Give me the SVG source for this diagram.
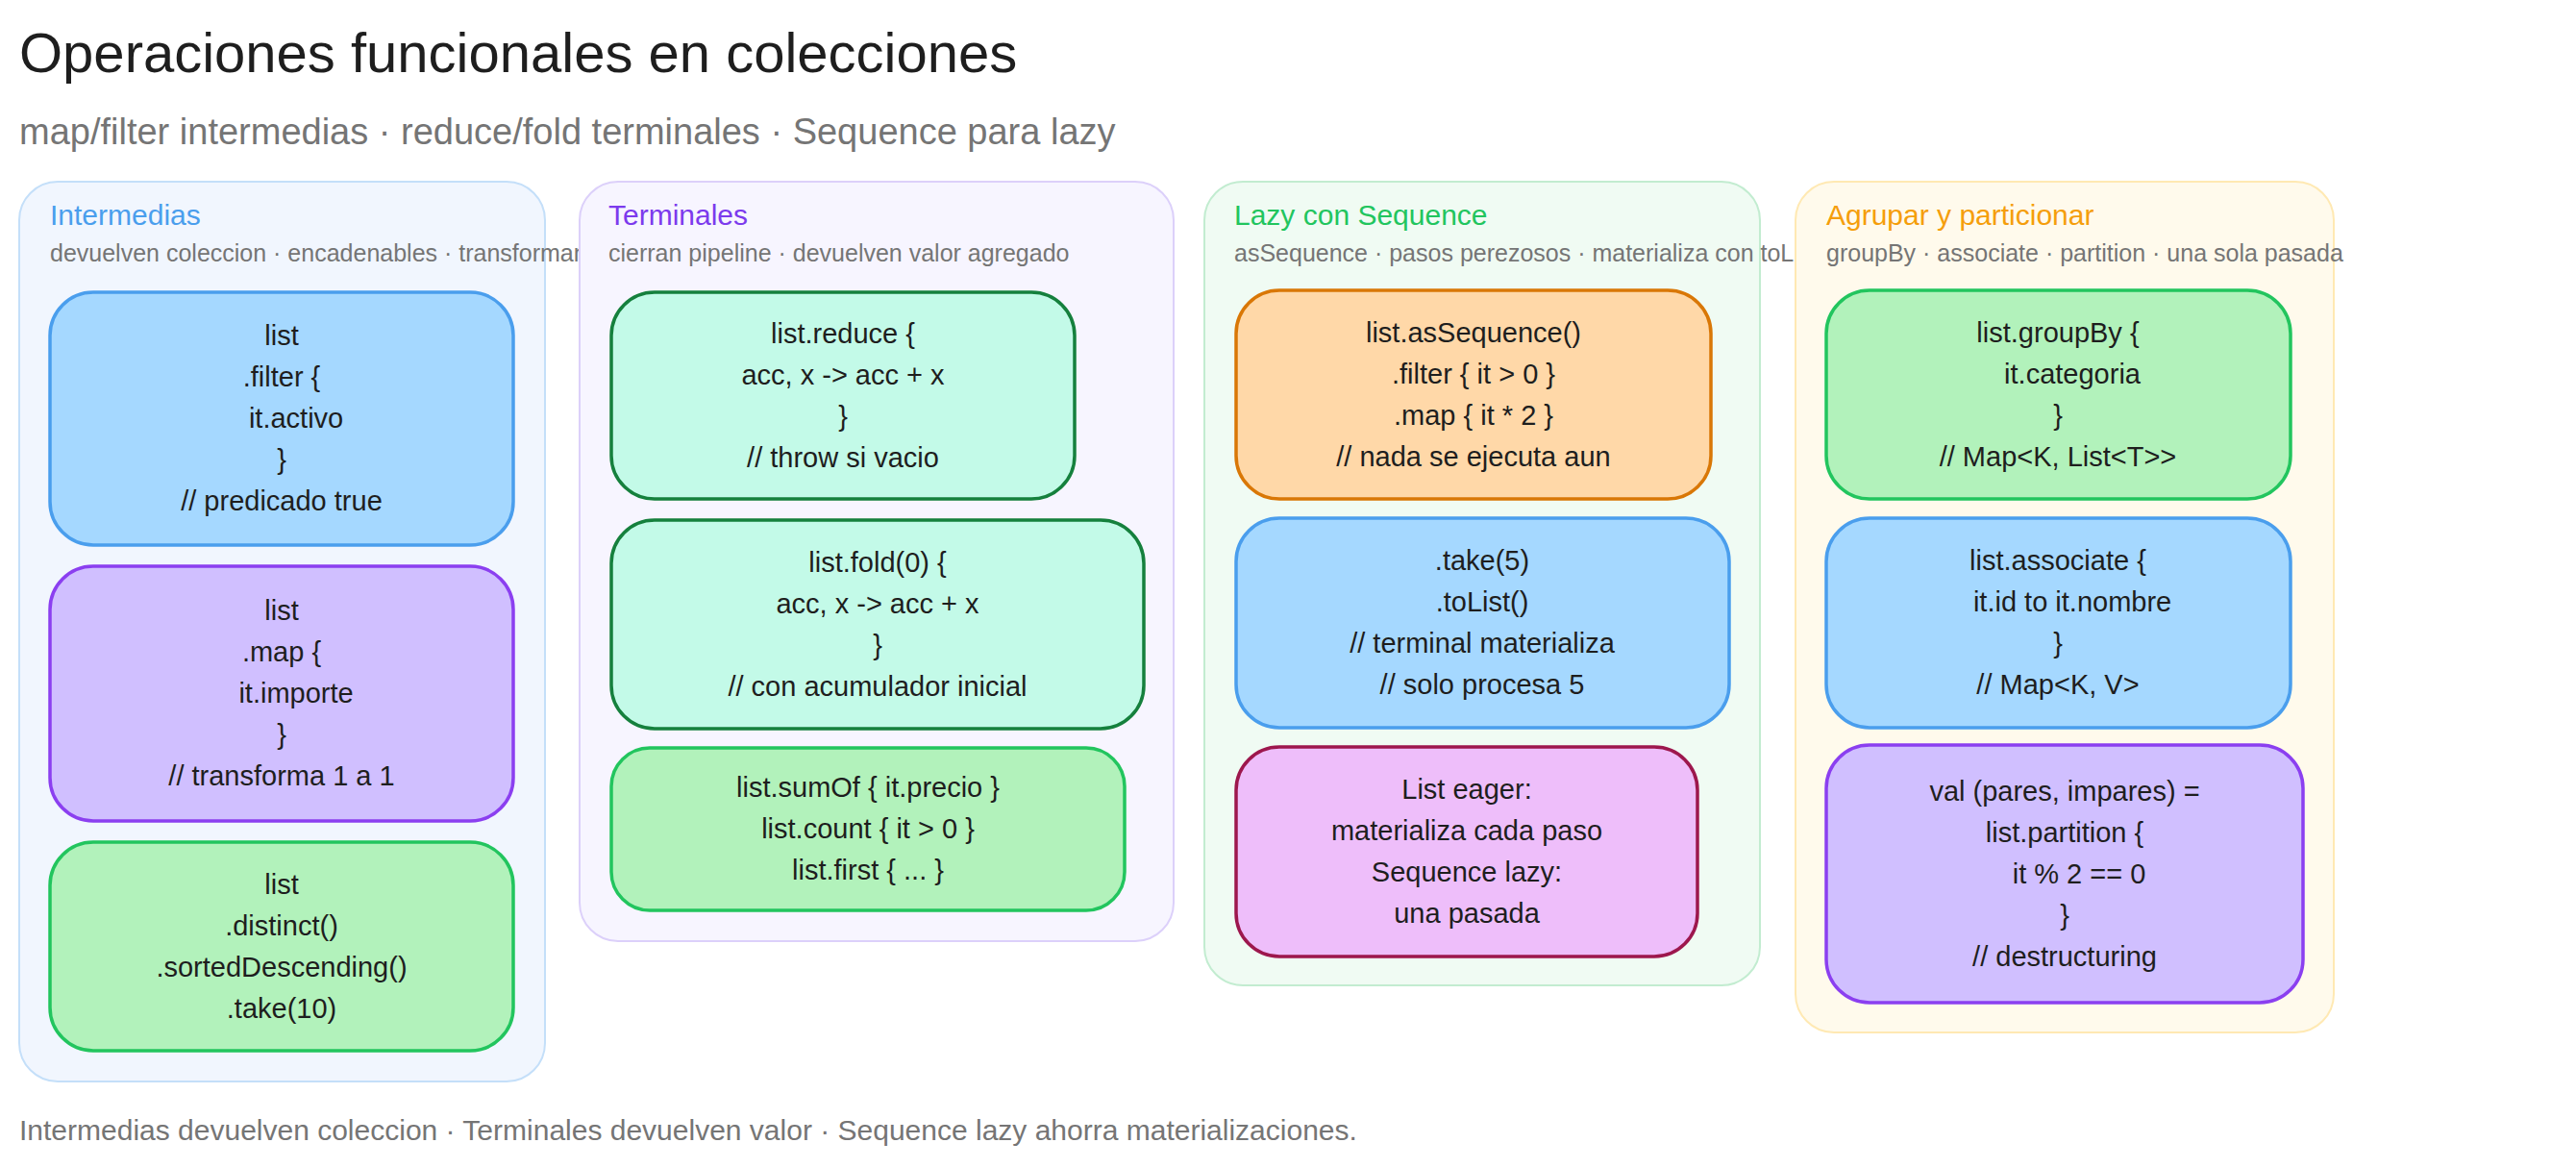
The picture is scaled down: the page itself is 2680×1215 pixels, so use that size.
<svg xmlns="http://www.w3.org/2000/svg" width="2680" height="1215" viewBox="0 0 2680 1215">
<style>
text{font-family:"Liberation Sans",Arial,sans-serif;white-space:pre}
.t{font-size:58px;fill:#1e1e1e}
.st{font-size:38px;fill:#757575}
.pt{font-size:30px}
.ps{font-size:25px;fill:#757575}
.n{font-size:29px;fill:#1e1e1e;text-anchor:middle;dominant-baseline:central}
.nd rect{stroke-width:3.5}
.pn rect{stroke-width:2}
</style>
<rect width="2680" height="1215" fill="#ffffff"/>
<text class="t" x="20" y="75">Operaciones funcionales en colecciones</text>
<text class="st" x="20" y="150">map/filter intermedias · reduce/fold terminales · Sequence para lazy</text>

<g id="panel-intermedias" class="pn"><rect x="20" y="189" width="547" height="936" rx="40" fill="#f1f6fe" stroke="#c4dff9"/><text class="pt" x="52" y="234" fill="#4a9eed">Intermedias</text><text class="ps" x="52" y="272">devuelven coleccion · encadenables · transforman</text></g>
<g id="panel-terminales" class="pn"><rect x="603" y="189" width="618" height="790" rx="40" fill="#f7f5ff" stroke="#dcd0fa"/><text class="pt" x="633" y="234" fill="#7c3aed">Terminales</text><text class="ps" x="633" y="272">cierran pipeline · devuelven valor agregado</text></g>
<g id="panel-lazy" class="pn"><rect x="1253" y="189" width="578" height="836" rx="40" fill="#f0fbf3" stroke="#c2ecd0"/><text class="pt" x="1284" y="234" fill="#22c55e">Lazy con Sequence</text><text class="ps" x="1284" y="272">asSequence · pasos perezosos · materializa con toList()</text></g>
<g id="panel-agrupar" class="pn"><rect x="1868" y="189" width="560" height="885" rx="40" fill="#fffaec" stroke="#ffe9b3"/><text class="pt" x="1900" y="234" fill="#f59e0b">Agrupar y particionar</text><text class="ps" x="1900" y="272">groupBy · associate · partition · una sola pasada</text></g>

<g id="n-filter" class="nd"><rect x="52" y="304" width="482" height="263" rx="45" fill="#a5d8ff" stroke="#4a9eed"/>
<text class="n" x="293" y="349">list</text><text class="n" x="293" y="392">.filter {</text><text class="n" x="300" y="435">  it.activo</text><text class="n" x="293" y="478">}</text><text class="n" x="293" y="521">// predicado true</text></g>
<g id="n-map" class="nd"><rect x="52" y="589" width="482" height="265" rx="45" fill="#d0bfff" stroke="#8b3ff0"/>
<text class="n" x="293" y="635">list</text><text class="n" x="293" y="678">.map {</text><text class="n" x="300" y="721">  it.importe</text><text class="n" x="293" y="764">}</text><text class="n" x="293" y="807">// transforma 1 a 1</text></g>
<g id="n-distinct" class="nd"><rect x="52" y="876" width="482" height="217" rx="45" fill="#b2f2bb" stroke="#22c55e"/>
<text class="n" x="293" y="920">list</text><text class="n" x="293" y="963">.distinct()</text><text class="n" x="293" y="1006">.sortedDescending()</text><text class="n" x="293" y="1049">.take(10)</text></g>

<g id="n-reduce" class="nd"><rect x="636" y="304" width="482" height="215" rx="45" fill="#c3fae8" stroke="#15803d"/>
<text class="n" x="877" y="347">list.reduce {</text><text class="n" x="877" y="390">acc, x -&gt; acc + x</text><text class="n" x="877" y="433">}</text><text class="n" x="877" y="476">// throw si vacio</text></g>
<g id="n-fold" class="nd"><rect x="636" y="541" width="554" height="217" rx="45" fill="#c3fae8" stroke="#15803d"/>
<text class="n" x="913" y="585">list.fold(0) {</text><text class="n" x="913" y="628">acc, x -&gt; acc + x</text><text class="n" x="913" y="671">}</text><text class="n" x="913" y="714">// con acumulador inicial</text></g>
<g id="n-sumof" class="nd"><rect x="636" y="778" width="534" height="169" rx="40" fill="#b2f2bb" stroke="#22c55e"/>
<text class="n" x="903" y="819">list.sumOf { it.precio }</text><text class="n" x="903" y="862">list.count { it &gt; 0 }</text><text class="n" x="903" y="905">list.first { ... }</text></g>

<g id="n-assequence" class="nd"><rect x="1286" y="302" width="494" height="217" rx="45" fill="#ffd8a8" stroke="#d97706"/>
<text class="n" x="1533" y="346">list.asSequence()</text><text class="n" x="1533" y="389">.filter { it &gt; 0 }</text><text class="n" x="1533" y="432">.map { it * 2 }</text><text class="n" x="1533" y="475">// nada se ejecuta aun</text></g>
<g id="n-take" class="nd"><rect x="1286" y="539" width="513" height="218" rx="45" fill="#a5d8ff" stroke="#4a9eed"/>
<text class="n" x="1542" y="583">.take(5)</text><text class="n" x="1542" y="626">.toList()</text><text class="n" x="1542" y="669">// terminal materializa</text><text class="n" x="1542" y="712">// solo procesa 5</text></g>
<g id="n-eager" class="nd"><rect x="1286" y="777" width="480" height="218" rx="45" fill="#eebefa" stroke="#9d174d"/>
<text class="n" x="1526" y="821">List eager:</text><text class="n" x="1526" y="864">materializa cada paso</text><text class="n" x="1526" y="907">Sequence lazy:</text><text class="n" x="1526" y="950">una pasada</text></g>

<g id="n-groupby" class="nd"><rect x="1900" y="302" width="483" height="217" rx="45" fill="#b2f2bb" stroke="#22c55e"/>
<text class="n" x="2141" y="346">list.groupBy {</text><text class="n" x="2148" y="389">  it.categoria</text><text class="n" x="2141" y="432">}</text><text class="n" x="2141" y="475">// Map&lt;K, List&lt;T&gt;&gt;</text></g>
<g id="n-associate" class="nd"><rect x="1900" y="539" width="483" height="218" rx="45" fill="#a5d8ff" stroke="#4a9eed"/>
<text class="n" x="2141" y="583">list.associate {</text><text class="n" x="2148" y="626">  it.id to it.nombre</text><text class="n" x="2141" y="669">}</text><text class="n" x="2141" y="712">// Map&lt;K, V&gt;</text></g>
<g id="n-partition" class="nd"><rect x="1900" y="775" width="496" height="268" rx="45" fill="#d0bfff" stroke="#8b3ff0"/>
<text class="n" x="2148" y="823">val (pares, impares) =</text><text class="n" x="2148" y="866">list.partition {</text><text class="n" x="2155" y="909">  it % 2 == 0</text><text class="n" x="2148" y="952">}</text><text class="n" x="2148" y="995">// destructuring</text></g>

<g id="connectors"></g>
<text x="20" y="1186" style="font-size:30px;fill:#757575">Intermedias devuelven coleccion · Terminales devuelven valor · Sequence lazy ahorra materializaciones.</text>
</svg>
